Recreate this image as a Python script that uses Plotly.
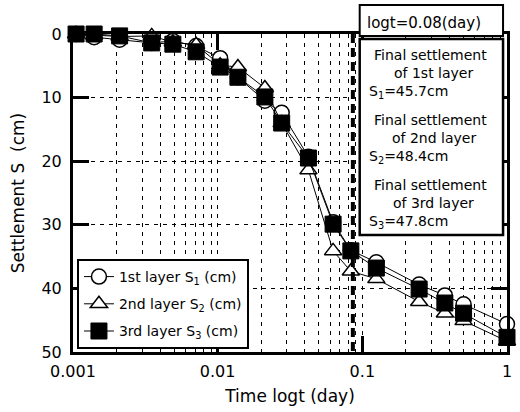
import plotly.graph_objects as go

# ---------------- data ----------------
t_days = [0.00105, 0.0014, 0.0021, 0.0035, 0.0049, 0.0071, 0.0104, 0.0138, 0.0212,
          0.0277, 0.0424, 0.0628, 0.0833, 0.125, 0.247, 0.372, 0.501, 1.0]
s_layer1 = [0.0, 0.5, 0.9, 1.4, 1.1, 1.9, 3.8, 6.8, 10.5,
            12.4, 19.3, 29.6, 34.0, 35.9, 39.4, 41.1, 42.5, 45.6]
s_layer2 = [0.0, 0.2, 0.4, 0.3, 1.3, 1.7, 4.9, 5.2, 8.5,
            14.0, 21.4, 34.1, 37.3, 38.5, 42.1, 43.9, 45.1, 48.3]
s_layer3 = [0.0, 0.0, 0.3, 1.4, 1.6, 2.8, 5.2, 6.8, 9.9,
            14.0, 19.5, 29.9, 34.1, 36.8, 40.1, 42.3, 43.9, 47.7]
series_names = ["1st layer S<sub>1</sub> (cm)",
                "2nd layer S<sub>2</sub> (cm)",
                "3rd layer S<sub>3</sub> (cm)"]
t_mark = 0.086
mark_label = "logt=0.08(day)"
layer_names = ["1st", "2nd", "3rd"]
final_settlement = ["45.7", "48.4", "47.8"]
x_tick_vals = [0.001, 0.01, 0.1, 1]
x_tick_text = ["0.001", "0.01", "0.1", "1"]
y_tick_vals = [0, 10, 20, 30, 40, 50]

# ---------------- layout helpers ----------------
W, H = 520, 412
L, R, T, B = 73, 8, 34, 60
FONT = "DejaVu Sans"


def px(x):
    return (x - L) / (W - L - R)


def py(y):
    return (H - B - y) / (H - T - B)


fig = go.Figure()

styles = [
    dict(symbol="circle", size=15, color="white", line=dict(color="black", width=1.5)),
    dict(symbol="triangle-up", size=15, color="white", line=dict(color="black", width=1.5)),
    dict(symbol="square", size=16, color="black", line=dict(color="black", width=1)),
]
for i, (name, ys) in enumerate(zip(series_names, [s_layer1, s_layer2, s_layer3])):
    fig.add_trace(go.Scatter(
        x=t_days, y=ys, name=name, mode="lines+markers",
        line=dict(color="black", width=1),
        marker=styles[i], cliponaxis=False,
        legendgroup=f"g{i}",
    ))

# vertical thick dashed marker line at logt
fig.add_trace(go.Scatter(
    x=[t_mark, t_mark], y=[y_tick_vals[0], y_tick_vals[-1]], mode="lines",
    line=dict(color="black", width=4, dash="9px,5px"), showlegend=False,
    hoverinfo="skip",
))

grid_dash = "4px,5px"
fig.update_xaxes(
    type="log", range=[-3, 0],
    tickvals=x_tick_vals, ticktext=x_tick_text,
    ticks="inside", ticklen=16, tickwidth=3, tickcolor="black",
    showline=True, linewidth=3, linecolor="black", mirror="ticks",
    showgrid=True, gridcolor="black", gridwidth=1, griddash=grid_dash,
    minor=dict(dtick="D1", showgrid=True, gridcolor="black", gridwidth=1,
               griddash=grid_dash, ticks=""),
    tickfont=dict(family=FONT, size=16, color="black"),
    ticklabelstandoff=3,
    title=dict(text="Time logt (day)", font=dict(family=FONT, size=17, color="black"),
               standoff=10),
    zeroline=False,
)
fig.update_yaxes(
    range=[50, 0], tickvals=y_tick_vals,
    ticks="inside", ticklen=16, tickwidth=3, tickcolor="black",
    showline=True, linewidth=3, linecolor="black", mirror="ticks",
    showgrid=True, gridcolor="black", gridwidth=1, griddash=grid_dash,
    tickfont=dict(family=FONT, size=16, color="black"),
    ticklabelstandoff=5,
    title=dict(text="Settlement S  (cm)", font=dict(family=FONT, size=17, color="black"),
               standoff=13),
    zeroline=False,
)

shapes = [
    dict(type="rect", xref="paper", yref="paper", x0=px(363), x1=px(508), y0=py(36), y1=py(5),
         line=dict(color="black", width=2), fillcolor="white", layer="above"),
    dict(type="rect", xref="paper", yref="paper", x0=px(363), x1=px(508), y0=py(235), y1=py(39),
         line=dict(color="black", width=2.5), fillcolor="white", layer="above"),
]

annotations = [
    dict(text=mark_label, x=px(428), y=py(23), xref="paper", yref="paper",
         showarrow=False, font=dict(family=FONT, size=15, color="black"),
         xanchor="center", yanchor="middle"),
]
row_y0 = [55, 120, 185]
for k in range(3):
    y0 = row_y0[k]
    annotations.append(dict(text="Final settlement", x=px(435), y=py(y0), xref="paper", yref="paper",
                            showarrow=False, font=dict(family=FONT, size=14, color="black"),
                            xanchor="center", yanchor="middle"))
    annotations.append(dict(text=f"of {layer_names[k]} layer", x=px(438), y=py(y0 + 18), xref="paper",
                            yref="paper", showarrow=False,
                            font=dict(family=FONT, size=14, color="black"),
                            xanchor="center", yanchor="middle"))
    annotations.append(dict(text=f"S<sub>{k + 1}</sub>=" + final_settlement[k] + "cm",
                            x=px(370), y=py(y0 + 37), xref="paper",
                            yref="paper", showarrow=False,
                            font=dict(family=FONT, size=14, color="black"),
                            xanchor="left", yanchor="middle"))

fig.update_layout(
    width=W, height=H,
    margin=dict(l=L, r=R, t=T, b=B),
    paper_bgcolor="white", plot_bgcolor="white",
    font=dict(family=FONT, color="black"),
    shapes=shapes, annotations=annotations,
    legend=dict(x=px(77), y=py(259), xanchor="left", yanchor="top",
                bordercolor="black", borderwidth=2, bgcolor="white",
                font=dict(family=FONT, size=14, color="black"),
                tracegroupgap=6, traceorder="grouped"),
    showlegend=True,
)

fig.write_html("out.html",
               config={"displayModeBar": False},
               post_script="document.body.style.margin='0px';document.body.style.padding='0px';")
